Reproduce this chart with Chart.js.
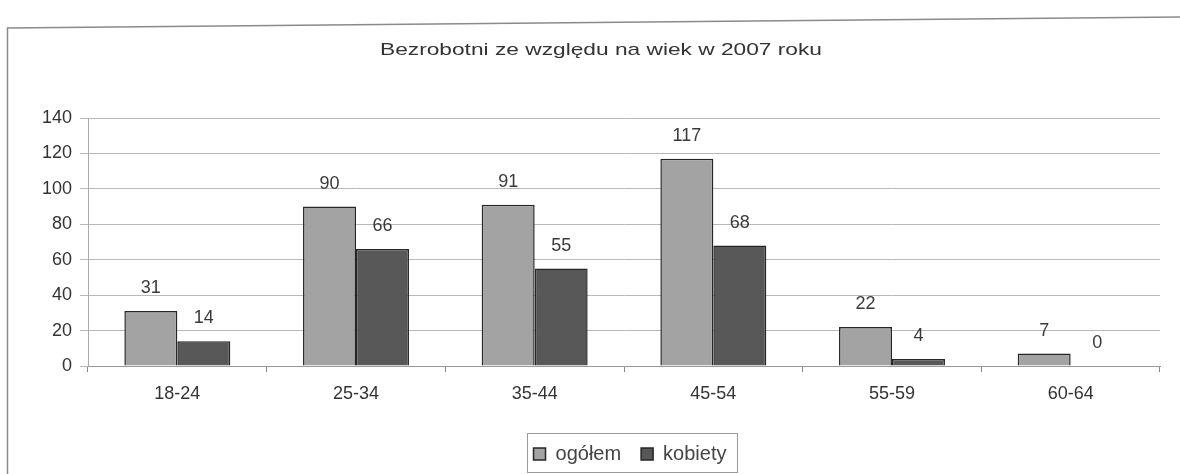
<!DOCTYPE html>
<html>
<head>
<meta charset="utf-8">
<script src="https://cdn.jsdelivr.net/npm/chart.js@4/dist/chart.umd.min.js"></script>
<style>
html,body{margin:0;padding:0;background:#fff;}
#wrap{position:relative;width:1180px;height:474px;}
canvas{display:block;}
</style>
</head>
<body>
<div id="wrap"><canvas id="c" width="1180" height="474"></canvas></div>
<script>
const categories = ["18-24", "25-34", "35-44", "45-54", "55-59", "60-64"];
const ogolem = [31, 90, 91, 117, 22, 7];
const kobiety = [14, 66, 55, 68, 4, 0];
const yTicks = [0, 20, 40, 60, 80, 100, 120, 140];
const titleText = "Bezrobotni ze względu na wiek w 2007 roku";
const seriesNames = ["ogółem", "kobiety"];

const FONT = "'Liberation Sans', Arial, sans-serif";
const LEGEND_BOX = { left: 527, right: 737, top: 433, bottom: 472 };

const framePlugin = {
  id: 'frame',
  afterLayout(chart) {
    const lg = chart.legend;
    if (!lg || !lg.lineWidths) return;
    const lw = lg.lineWidths[0];
    const pad = lg.options.labels.padding;
    const curStart = ((lg.left + pad) + (lg.right - lw)) / 2;
    const wantStart = (LEGEND_BOX.left + LEGEND_BOX.right) / 2 - lw / 2;
    const dx = wantStart - curStart + 8;
    lg.left += dx;
    lg.right += dx;
    if (lg.legendHitBoxes) lg.legendHitBoxes.forEach(b => { b.left += dx; });
  },
  beforeDraw(chart) {
    const ctx = chart.ctx;
    ctx.save();
    ctx.fillStyle = '#fff';
    ctx.fillRect(0, 0, chart.width, chart.height);
    ctx.strokeStyle = '#8a8a8a';
    ctx.lineWidth = 1.5;
    ctx.beginPath();
    ctx.moveTo(7.5, 474);
    ctx.lineTo(7.5, 28);
    ctx.lineTo(1180, 17);
    ctx.stroke();
    // title (stretched horizontally like the scanned original)
    ctx.font = "17px " + FONT;
    ctx.fillStyle = '#333';
    ctx.textBaseline = 'middle';
    ctx.textAlign = 'center';
    const w = ctx.measureText(titleText).width;
    const sx = 442 / w;
    ctx.translate(601, 50);
    ctx.scale(sx, 1);
    ctx.fillText(titleText, 0, 0);
    ctx.restore();
  },
  afterDraw(chart) {
    const ctx = chart.ctx;
    ctx.save();
    ctx.strokeStyle = '#9a9a9a';
    ctx.lineWidth = 1;
    ctx.strokeRect(LEGEND_BOX.left + 0.5, LEGEND_BOX.top + 0.5,
      LEGEND_BOX.right - LEGEND_BOX.left, LEGEND_BOX.bottom - LEGEND_BOX.top);
    ctx.restore();
  }
};

const labelPlugin = {
  id: 'valueLabels',
  afterDatasetsDraw(chart) {
    const ctx = chart.ctx;
    ctx.save();
    ctx.font = "18px " + FONT;
    ctx.fillStyle = '#3a3a3a';
    ctx.textAlign = 'center';
    ctx.textBaseline = 'middle';
    chart.data.datasets.forEach((ds, i) => {
      const meta = chart.getDatasetMeta(i);
      meta.data.forEach((bar, j) => {
        ctx.fillText(String(ds.data[j]), bar.x, bar.y - 23);
      });
    });
    ctx.restore();
  }
};

new Chart(document.getElementById('c'), {
  type: 'bar',
  data: {
    labels: categories,
    datasets: [
      { label: seriesNames[0], data: ogolem, backgroundColor: '#a3a3a3', borderColor: '#262626', borderWidth: 1.5 },
      { label: seriesNames[1], data: kobiety, backgroundColor: '#585858', borderColor: '#262626', borderWidth: 1.5 }
    ]
  },
  options: {
    responsive: false,
    animation: false,
    devicePixelRatio: 1,
    layout: { padding: { left: 0, right: 20, top: 118, bottom: 0 } },
    categoryPercentage: 0.593,
    barPercentage: 1.0,
    plugins: {
      title: { display: false },
      legend: {
        position: 'bottom',
        labels: {
          color: '#444',
          font: { family: FONT, size: 20 },
          boxWidth: 12,
          boxHeight: 12,
          padding: 20
        }
      },
      tooltip: { enabled: false }
    },
    scales: {
      x: {
        grid: { display: true, drawOnChartArea: false, color: '#888', tickLength: 6, offset: true },
        border: { color: '#999' },
        ticks: { color: '#333', font: { family: FONT, size: 18 }, padding: 11 },
        afterFit(axis) { axis.height = 58; }
      },
      y: {
        min: 0, max: 140,
        afterBuildTicks(axis) { axis.ticks = yTicks.map(v => ({ value: v })); },
        afterFit(axis) { axis.width = 88; },
        grid: { color: '#b8b8b8', tickLength: 8 },
        border: { color: '#aaa' },
        ticks: { color: '#333', font: { family: FONT, size: 18 }, padding: 8 }
      }
    }
  },
  plugins: [framePlugin, labelPlugin]
});
</script>
</body>
</html>
